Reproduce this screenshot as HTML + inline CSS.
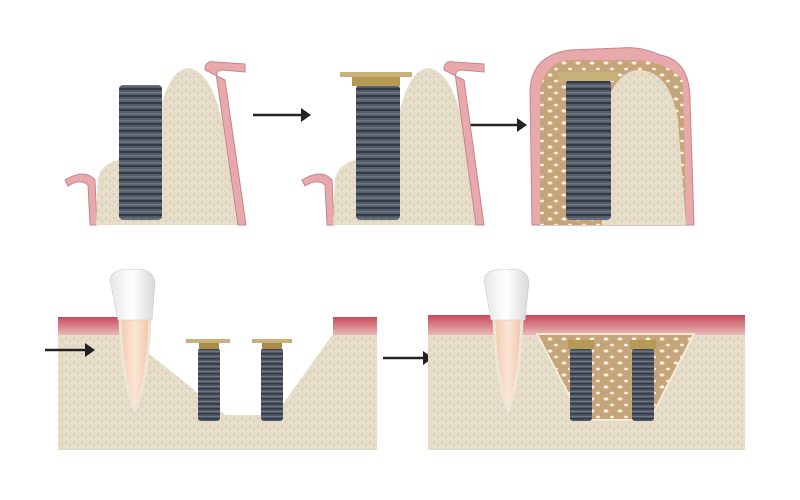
<!DOCTYPE html>
<html><head><meta charset="utf-8"><style>html,body{margin:0;padding:0;background:#fff}svg{display:block}</style></head>
<body>
<svg width="800" height="500" viewBox="0 0 800 500" xmlns="http://www.w3.org/2000/svg">
<defs>
<pattern id="thr" width="6" height="7" patternUnits="userSpaceOnUse">
<rect width="6" height="7" fill="#535b69"/><rect y="4" width="6" height="2" fill="#333945"/><rect y="1" width="6" height="1.5" fill="#6d7584"/>
</pattern>
<pattern id="thr2" width="6" height="5" patternUnits="userSpaceOnUse">
<rect width="6" height="5" fill="#535b69"/><rect y="3" width="6" height="1.5" fill="#333945"/><rect y="1" width="6" height="1" fill="#6d7584"/>
</pattern>
<pattern id="bone" width="8" height="8" patternUnits="userSpaceOnUse">
<rect width="8" height="8" fill="#e6ddc9"/><circle cx="2" cy="2" r="1" fill="#d4c8b0"/><circle cx="6" cy="5" r="1" fill="#d6cbb4"/><circle cx="3" cy="7" r=".7" fill="#f0ebdf"/>
</pattern>
<pattern id="graft" width="14" height="12" patternUnits="userSpaceOnUse">
<rect width="14" height="12" fill="#c7a57a"/><ellipse cx="4" cy="3" rx="2.5" ry="1.6" fill="#f7efe0"/><ellipse cx="10" cy="9" rx="2" ry="1.4" fill="#f7efe0"/>
</pattern>
<linearGradient id="gum" x1="0" y1="0" x2="0" y2="1"><stop offset="0" stop-color="#c94a5c"/><stop offset="1" stop-color="#e8b9b8"/></linearGradient>
<linearGradient id="crown" x1="0" y1="0" x2="1" y2="0"><stop offset="0" stop-color="#e6e6e8"/><stop offset=".5" stop-color="#fff"/><stop offset="1" stop-color="#d8d8da"/></linearGradient>
<linearGradient id="root" x1="0" y1="0" x2="1" y2="0"><stop offset="0" stop-color="#f0c9ad"/><stop offset=".5" stop-color="#fbe6d6"/><stop offset="1" stop-color="#eec4a8"/></linearGradient>
</defs>

<!-- Panel 1 -->
<path d="M65 180 Q85 168 95 180 L97 225 L90 225 L88 185 Q80 178 68 186 Z" fill="#e7a9ac" stroke="#c9848a"/>
<path d="M96 225 L98 180 Q100 165 118 160 L160 110 Q170 70 188 68 Q210 70 222 120 L238 225 Z" fill="url(#bone)"/>
<path d="M205 70 Q205 60 215 62 L245 64 L245 72 L222 70 Q215 70 217 80 L238 225 L246 225 L225 80 Z" fill="#e7a9ac" stroke="#c9848a"/>
<rect x="119" y="85" width="43" height="135" rx="4" fill="url(#thr)"/>

<!-- arrows top -->
<line x1="253" y1="115" x2="302" y2="115" stroke="#222" stroke-width="2.5"/><path d="M301 108 L311 115 L301 122 Z" fill="#222"/>
<line x1="470" y1="125" x2="518" y2="125" stroke="#222" stroke-width="2.5"/><path d="M517 118 L527 125 L517 132 Z" fill="#222"/>

<!-- Panel 2 -->
<path d="M302 180 Q322 168 332 180 L334 225 L327 225 L325 185 Q317 178 305 186 Z" fill="#e7a9ac" stroke="#c9848a"/>
<path d="M333 225 L335 180 Q337 165 355 160 L400 110 Q410 70 428 68 Q450 70 462 120 L476 225 Z" fill="url(#bone)"/>
<path d="M444 70 Q444 60 454 62 L484 64 L484 72 L461 70 Q454 70 456 80 L476 225 L484 225 L464 80 Z" fill="#e7a9ac" stroke="#c9848a"/>
<rect x="356" y="85" width="44" height="135" rx="4" fill="url(#thr)"/>
<rect x="340" y="72" width="72" height="5" fill="#c8b27a"/><rect x="352" y="77" width="48" height="9" fill="#b59a56"/>

<!-- Panel 3 -->
<path d="M532 225 L530 90 Q532 55 570 50 L620 48 Q640 46 660 55 Q690 60 690 100 L694 225 Z" fill="#e7a9ac" stroke="#c9848a"/>
<path d="M540 225 L540 90 Q545 62 570 60 L630 60 Q665 60 683 80 L686 225 Z" fill="url(#graft)"/>
<path d="M602 225 L605 110 Q615 70 640 70 Q670 72 678 120 L686 225 Z" fill="url(#bone)"/>
<rect x="566" y="80" width="45" height="140" rx="4" fill="url(#thr)"/>
<rect x="558" y="72" width="60" height="9" fill="#c8b27a"/>

<!-- Bottom left -->
<rect x="58" y="335" width="319" height="115" fill="url(#bone)"/>
<rect x="58" y="317" width="70" height="18" fill="url(#gum)"/>
<rect x="333" y="317" width="44" height="18" fill="url(#gum)"/>
<path d="M125 334 L225 415 L275 415 L333 334 Z" fill="#fff"/>
<path d="M120 318 Q122 380 135 410 Q148 380 150 318 Z" fill="url(#root)" stroke="#efe5d5" stroke-width="3"/>
<path d="M110 280 Q112 268 130 270 Q152 266 155 282 L152 320 L118 320 Z" fill="url(#crown)" stroke="#ccc" stroke-width=".6"/>
<rect x="198" y="348" width="22" height="73" rx="3" fill="url(#thr2)"/>
<rect x="186" y="339" width="44" height="4" fill="#c8b27a"/><rect x="199" y="343" width="20" height="6" fill="#a88c48"/>
<rect x="261" y="348" width="22" height="73" rx="3" fill="url(#thr2)"/>
<rect x="252" y="339" width="40" height="4" fill="#c8b27a"/><rect x="262" y="343" width="20" height="6" fill="#a88c48"/>

<line x1="45" y1="350" x2="86" y2="350" stroke="#222" stroke-width="2.5"/><path d="M85 343 L95 350 L85 357 Z" fill="#222"/>
<line x1="383" y1="358" x2="424" y2="358" stroke="#222" stroke-width="2.5"/><path d="M423 351 L433 358 L423 365 Z" fill="#222"/>

<!-- Bottom right -->
<rect x="428" y="315" width="317" height="20" fill="url(#gum)"/>
<rect x="428" y="335" width="317" height="115" fill="url(#bone)"/>
<path d="M537 334 L694 334 L665 390 L650 420 L582 420 Z" fill="url(#graft)" stroke="#f3ead8" stroke-width="2"/>
<path d="M494 318 Q496 380 508 410 Q520 380 522 318 Z" fill="url(#root)" stroke="#efe5d5" stroke-width="3"/>
<path d="M484 280 Q486 268 505 270 Q527 266 529 282 L525 320 L491 320 Z" fill="url(#crown)" stroke="#ccc" stroke-width=".6"/>
<rect x="570" y="348" width="22" height="73" rx="3" fill="url(#thr2)"/>
<rect x="568" y="340" width="26" height="9" fill="#b59a56"/>
<rect x="632" y="348" width="22" height="73" rx="3" fill="url(#thr2)"/>
<rect x="630" y="340" width="26" height="9" fill="#b59a56"/>
</svg>
</body></html>
